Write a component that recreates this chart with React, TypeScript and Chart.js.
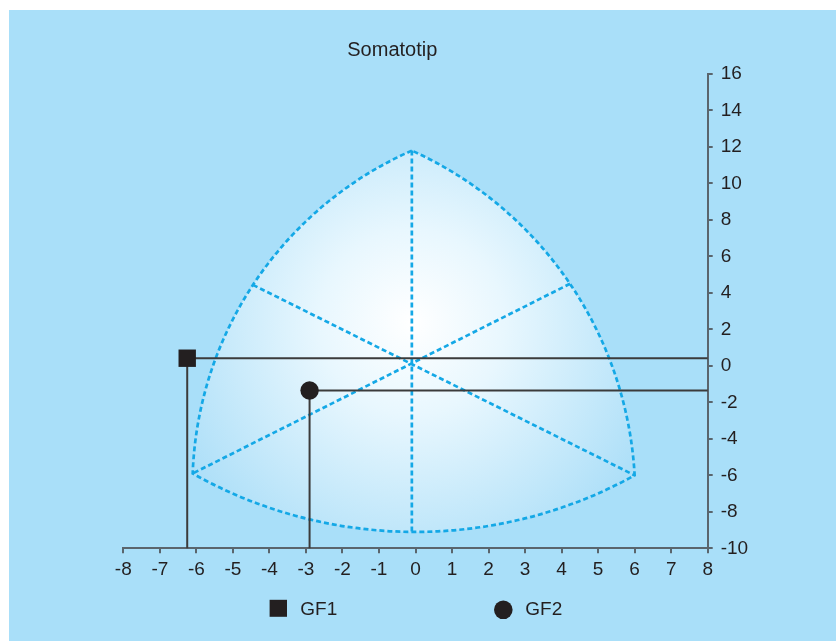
import { useEffect, useRef } from "react";
import { Chart, registerables } from "chart.js";

Chart.register(...registerables);

const titleText = "Somatotip";

// subjects plotted on the somatochart
const subjectNames = ["GF1", "GF2"];
const subjectX = [-6.25, -2.9];
const subjectY = [0.42, -1.35];

// somatochart vertices: top, lower-left, lower-right
const vertexX = [-0.1, -6.1, 6.0];
const vertexY = [11.8, -5.9, -6.0];
// points lying on the arcs: left arc, bottom arc, right arc
const arcMidX = [-4.45, -0.1, 4.23];
const arcMidY = [4.44, -9.1, 4.5];

// axis ticks
const xTickValues = [-8, -7, -6, -5, -4, -3, -2, -1, 0, 1, 2, 3, 4, 5, 6, 7, 8];
const yTickValues = [-10, -8, -6, -4, -2, 0, 2, 4, 6, 8, 10, 12, 14, 16];

const FONT = "'Liberation Sans', Arial, sans-serif";
const TEXT = "#231f20";
const AXIS = "#5a656d";
const DASH = "#14a8e6";
const MARK = "#231f20";
const BG = "#a9dff9";

type Pt = { x: number; y: number };

function arcThrough(ctx: CanvasRenderingContext2D, a: Pt, b: Pt, c: Pt) {
  const d = 2 * (a.x * (b.y - c.y) + b.x * (c.y - a.y) + c.x * (a.y - b.y));
  const a2 = a.x * a.x + a.y * a.y;
  const b2 = b.x * b.x + b.y * b.y;
  const c2 = c.x * c.x + c.y * c.y;
  const ux = (a2 * (b.y - c.y) + b2 * (c.y - a.y) + c2 * (a.y - b.y)) / d;
  const uy = (a2 * (c.x - b.x) + b2 * (a.x - c.x) + c2 * (b.x - a.x)) / d;
  const r = Math.hypot(a.x - ux, a.y - uy);
  const t0 = Math.atan2(a.y - uy, a.x - ux);
  const t1 = Math.atan2(b.y - uy, b.x - ux);
  const t2 = Math.atan2(c.y - uy, c.x - ux);
  const norm = (t: number) => {
    while (t < 0) t += Math.PI * 2;
    while (t >= Math.PI * 2) t -= Math.PI * 2;
    return t;
  };
  const d1 = norm(t1 - t0);
  const d2 = norm(t2 - t0);
  ctx.arc(ux, uy, r, t0, t2, !(d1 < d2));
}

const shapePlugin = {
  id: "somatoShape",
  beforeDatasetsDraw(chart: any) {
    const { ctx } = chart;
    const xs = chart.scales.x;
    const ys = chart.scales.y;
    const P = (x: number, y: number): Pt => ({ x: xs.getPixelForValue(x), y: ys.getPixelForValue(y) });
    const top = P(vertexX[0], vertexY[0]);
    const ll = P(vertexX[1], vertexY[1]);
    const lr = P(vertexX[2], vertexY[2]);
    const mL = P(arcMidX[0], arcMidY[0]);
    const mB = P(arcMidX[1], arcMidY[1]);
    const mR = P(arcMidX[2], arcMidY[2]);
    ctx.save();
    ctx.beginPath();
    ctx.moveTo(top.x, top.y);
    arcThrough(ctx, top, mL, ll);
    arcThrough(ctx, ll, mB, lr);
    arcThrough(ctx, lr, mR, top);
    ctx.closePath();
    const cx = (top.x + mB.x) / 2;
    const cy = top.y + (mB.y - top.y) * 0.45;
    const g = ctx.createRadialGradient(cx, cy, 0, cx, cy, 265);
    g.addColorStop(0, "#ffffff");
    g.addColorStop(0.35, "#e8f7fe");
    g.addColorStop(1, "#addff8");
    ctx.fillStyle = g;
    ctx.fill();
    ctx.setLineDash([5, 3]);
    ctx.lineWidth = 2.7;
    ctx.strokeStyle = DASH;
    ctx.stroke();
    ctx.restore();
  },
};

const textPlugin = {
  id: "somatoText",
  afterDraw(chart: any) {
    const { ctx, chartArea } = chart;
    ctx.save();
    ctx.fillStyle = TEXT;
    ctx.font = `20px ${FONT}`;
    ctx.textAlign = "center";
    ctx.textBaseline = "middle";
    ctx.fillText(titleText, chartArea.left + 269, chartArea.top - 24);

    // legend
    ctx.font = `19px ${FONT}`;
    ctx.textAlign = "left";
    const ly = chartArea.bottom + 60;
    const positions = [chartArea.left + 155, chartArea.left + 380];
    subjectNames.forEach((name, i) => {
      const cx = positions[i];
      ctx.fillStyle = MARK;
      ctx.beginPath();
      if (i === 0) {
        ctx.rect(cx - 8.7, ly - 8.5, 17.4, 17);
      } else {
        ctx.arc(cx, ly + 1.5, 9.3, 0, Math.PI * 2);
      }
      ctx.fill();
      ctx.fillStyle = TEXT;
      ctx.fillText(name, cx + 22, ly + 1);
    });
    ctx.restore();
  },
};

export default function App() {
  const ref = useRef<HTMLCanvasElement | null>(null);

  useEffect(() => {
    if (!ref.current) return;
    const pts = subjectNames.map((_, i) => ({ x: subjectX[i], y: subjectY[i] }));
    const xMax = xTickValues[xTickValues.length - 1];
    const yMin = yTickValues[0];

    const dashStyle = {
      showLine: true,
      borderColor: DASH,
      borderWidth: 2.7,
      borderDash: [5, 3],
      pointRadius: 0,
      fill: false,
      clip: false as any,
    };

    const datasets: any[] = [
      {
        label: subjectNames[0],
        data: [pts[0]],
        pointStyle: "rect",
        pointRadius: 12.3,
        pointHoverRadius: 12.3,
        backgroundColor: MARK,
        borderWidth: 0,
        clip: false,
      },
      {
        label: subjectNames[1],
        data: [pts[1]],
        pointStyle: "circle",
        pointRadius: 9.2,
        pointHoverRadius: 9.2,
        backgroundColor: MARK,
        borderWidth: 0,
        clip: false,
      },
      ...pts.map((p, i) => ({
        label: subjectNames[i] + " guide",
        data: [
          { x: xMax, y: p.y },
          { x: p.x, y: p.y },
          { x: p.x, y: yMin },
        ],
        showLine: true,
        borderColor: "#3b3b3b",
        borderWidth: 2,
        pointRadius: 0,
        fill: false,
        clip: false,
      })),
      {
        label: "axis-top",
        data: [
          { x: vertexX[0], y: vertexY[0] },
          { x: arcMidX[1], y: arcMidY[1] },
        ],
        ...dashStyle,
      },
      {
        label: "diag-1",
        data: [
          { x: arcMidX[0], y: arcMidY[0] },
          { x: vertexX[2], y: vertexY[2] },
        ],
        ...dashStyle,
      },
      {
        label: "diag-2",
        data: [
          { x: arcMidX[2], y: arcMidY[2] },
          { x: vertexX[1], y: vertexY[1] },
        ],
        ...dashStyle,
      },
    ];

    const tickFont = { family: FONT, size: 19 };

    const chart = new Chart(ref.current, {
      type: "scatter",
      data: { datasets },
      plugins: [shapePlugin, textPlugin],
      options: {
        animation: false,
        responsive: true,
        maintainAspectRatio: false,
        events: [],
        layout: { padding: { left: 114.3, top: 64, right: 83.3, bottom: 62.7 } },
        plugins: {
          legend: { display: false },
          title: { display: false },
          tooltip: { enabled: false },
        },
        scales: {
          x: {
            type: "linear",
            position: "bottom",
            min: xTickValues[0],
            max: xTickValues[xTickValues.length - 1],
            afterBuildTicks: (s: any) => {
              s.ticks = xTickValues.map((v) => ({ value: v }));
            },
            afterFit: (s: any) => {
              s.height = 30;
            },
            border: { display: true, color: AXIS, width: 2 },
            grid: { drawOnChartArea: false, drawTicks: true, tickLength: 5, tickColor: AXIS, lineWidth: 2 },
            ticks: { color: TEXT, font: tickFont, padding: 5, maxRotation: 0, autoSkip: false },
          },
          y: {
            type: "linear",
            position: "right",
            min: yTickValues[0],
            max: yTickValues[yTickValues.length - 1],
            afterBuildTicks: (s: any) => {
              s.ticks = yTickValues.map((v) => ({ value: v }));
            },
            afterFit: (s: any) => {
              s.width = 45;
            },
            border: { display: true, color: AXIS, width: 2 },
            grid: { drawOnChartArea: false, drawTicks: true, tickLength: 5, tickColor: AXIS, lineWidth: 2 },
            ticks: { color: TEXT, font: tickFont, padding: 8, autoSkip: false },
          },
        },
      } as any,
    });
    return () => chart.destroy();
  }, []);

  return (
    <div
      style={{
        position: "absolute",
        left: 9,
        top: 10,
        width: 827,
        height: 631,
        background: BG,
      }}
    >
      <canvas ref={ref} />
    </div>
  );
}
